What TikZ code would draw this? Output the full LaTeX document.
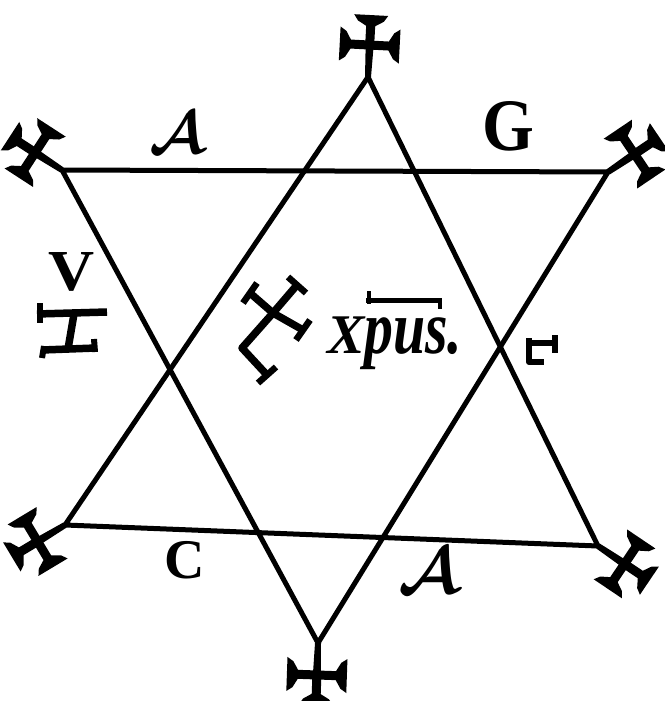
\documentclass[tikz,border=0pt]{standalone}
\usepackage{fontspec}
\setmainfont{Liberation Serif}
\usepackage{graphicx}
\tikzset{
  edge/.style={line width=5pt, line cap=round},
  sym/.style={line width=7.5pt},
  lbl/.style={inner sep=0pt, outer sep=0pt},
  pcross/.pic={
    \fill (0,-3) -- (32,-4) -- (32,4) -- (0,3) -- cycle;
    \fill (28,-4.5) -- (51,-4.5) -- (56,-13) -- (62,-17) -- (62,17) -- (56,13) -- (51,4.5) -- (28,4.5) -- cycle;
    \fill (27.5,0) -- (27.5,19) -- (19,24) -- (15,30) -- (49,30) -- (45,24) -- (36.5,19) -- (36.5,0) -- cycle;
    \fill (27.5,0) -- (27.5,-19) -- (19,-24) -- (15,-30) -- (49,-30) -- (45,-24) -- (36.5,-19) -- (36.5,0) -- cycle;
  }
}
\begin{document}
\begin{tikzpicture}[x=1pt,y=-1pt,line join=round]
\useasboundingbox (0,0) rectangle (664,701);
% vertices
\coordinate (T) at (368,77);
\coordinate (UL) at (62,170);
\coordinate (UR) at (608,172);
\coordinate (LL) at (65,525);
\coordinate (LR) at (598,546);
\coordinate (B) at (318,643);
% triangles
\draw[edge] (T) -- (LL) -- (LR) -- cycle;
\draw[edge] (UL) -- (UR) -- (B) -- cycle;
% crosses at the vertices
\pic[rotate=87] at (T) {pcross};
\pic[rotate=147] at (UL) {pcross};
\pic[rotate=34] at (UR) {pcross};
\pic[rotate=211] at (LL) {pcross};
\pic[rotate=-34] at (LR) {pcross};
\pic[rotate=-92] at (B) {pcross};
% central cross
\draw[sym] (250,293) -- (273,313) -- (303,330);
\draw[sym] (297,285) -- (273,313) -- (242,348) -- (267,375);
\draw[line width=6.5pt] (257,283) -- (243,303);
\draw[line width=6.5pt] (296,340) -- (310,320);
\draw[line width=6.5pt] (288,277) -- (306,293);
\draw[line width=6.5pt] (258,383) -- (276,367);
% left sign
\draw[sym] (37,314) -- (107,312);
\draw[line width=6pt] (40,303) -- (40,323);
\draw[sym] (74,314) -- (68,349);
\draw[sym] (42,350) -- (96,348);
\draw[line width=6pt] (44,346) -- (42,358);
\draw[line width=6pt] (94,339) -- (95,352);
% right sign
\draw[line width=6pt] (529,338) -- (529,362) -- (544,362);
\draw[line width=6pt] (529,343) -- (554,343);
\draw[line width=6pt] (555,335) -- (555,353);
% labels
\node[lbl, anchor=base] (a1) at (177,153) {\scalebox{6}{\boldmath$\mathcal{A}$}};
\node[lbl, anchor=base] (g) at (508,150) {\fontsize{74}{74}\selectfont\bfseries\scalebox{0.9}[1]{G}};
\node[lbl, anchor=base] (v) at (72,290) {\fontsize{58}{58}\selectfont\bfseries\scalebox{1.1}[1]{V}};
\node[lbl, anchor=base] (c) at (185,578) {\fontsize{56}{56}\selectfont\bfseries C};
\node[lbl, anchor=base] (a2) at (429,593) {\scalebox{6.6}{\boldmath$\mathcal{A}$}};
\node[lbl, anchor=base west] (xp) at (327,353) {\bfseries\itshape{\fontsize{56}{56}\selectfont X}\fontsize{76}{76}\selectfont\scalebox{0.76}[1]{pus.}};
\draw[line width=5pt] (366,300) -- (442,300);
\draw[line width=4.5pt] (369,291) -- (369,304);
\draw[line width=4.5pt] (440,298) -- (440,309);
\end{tikzpicture}
\end{document}
